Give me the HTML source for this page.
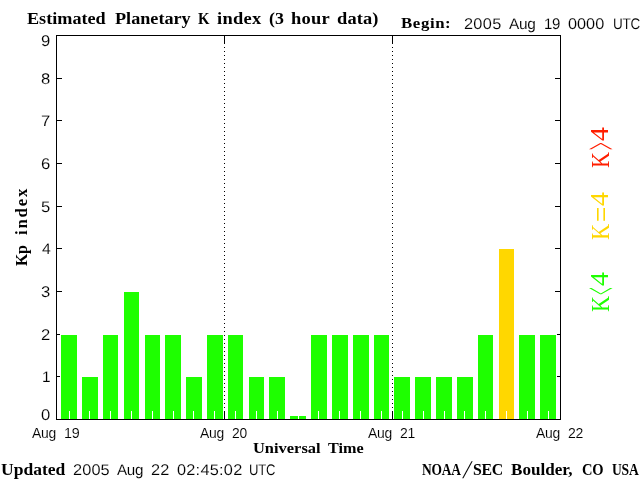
<!DOCTYPE html>
<html><head><meta charset="utf-8"><title>Estimated Planetary K index</title>
<style>
html,body{margin:0;padding:0;background:#fff;}
body{width:640px;height:480px;position:relative;overflow:hidden;}
#c{position:absolute;left:0;top:0;width:640px;height:480px;background:#fff;overflow:hidden;}
#c div,#c span{position:absolute;}
.w{white-space:pre;line-height:40px;height:40px;}
.serifb{font-family:"Liberation Serif",serif;font-weight:700;}
.serif{font-family:"Liberation Serif",serif;font-weight:400;}
.sans{font-family:"Liberation Sans",sans-serif;font-weight:400;-webkit-text-stroke:0.1px #fff;}
.p{left:0;top:0;width:0;height:0;}
.k{background:#000;}
.g{background:#1eff00;}
.y{background:#ffd700;}
.t{background:#fff;width:1px;top:411px;height:8px;}
</style></head><body><div id="c">
<div class="g" style="left:61px;top:335px;width:16px;height:84px"></div>
<div class="g" style="left:82px;top:377px;width:16px;height:42px"></div>
<div class="g" style="left:103px;top:335px;width:15px;height:84px"></div>
<div class="g" style="left:124px;top:292px;width:15px;height:127px"></div>
<div class="g" style="left:145px;top:335px;width:15px;height:84px"></div>
<div class="g" style="left:165px;top:335px;width:16px;height:84px"></div>
<div class="g" style="left:186px;top:377px;width:16px;height:42px"></div>
<div class="g" style="left:207px;top:335px;width:16px;height:84px"></div>
<div class="g" style="left:228px;top:335px;width:15px;height:84px"></div>
<div class="g" style="left:249px;top:377px;width:15px;height:42px"></div>
<div class="g" style="left:269px;top:377px;width:16px;height:42px"></div>
<div class="g" style="left:290px;top:416px;width:16px;height:3px"></div>
<div class="g" style="left:311px;top:335px;width:16px;height:84px"></div>
<div class="g" style="left:332px;top:335px;width:16px;height:84px"></div>
<div class="g" style="left:353px;top:335px;width:16px;height:84px"></div>
<div class="g" style="left:374px;top:335px;width:15px;height:84px"></div>
<div class="g" style="left:394px;top:377px;width:16px;height:42px"></div>
<div class="g" style="left:415px;top:377px;width:16px;height:42px"></div>
<div class="g" style="left:436px;top:377px;width:16px;height:42px"></div>
<div class="g" style="left:457px;top:377px;width:16px;height:42px"></div>
<div class="g" style="left:478px;top:335px;width:15px;height:84px"></div>
<div class="y" style="left:499px;top:249px;width:15px;height:170px"></div>
<div class="g" style="left:519px;top:335px;width:16px;height:84px"></div>
<div class="g" style="left:540px;top:335px;width:16px;height:84px"></div>
<div class="t" style="left:69px"></div>
<div class="t" style="left:89px"></div>
<div class="t" style="left:110px"></div>
<div class="t" style="left:131px"></div>
<div class="t" style="left:152px"></div>
<div class="t" style="left:173px"></div>
<div class="t" style="left:193px"></div>
<div class="t" style="left:214px"></div>
<div class="t" style="left:235px"></div>
<div class="t" style="left:256px"></div>
<div class="t" style="left:277px"></div>
<div class="t" style="left:298px"></div>
<div class="t" style="left:318px"></div>
<div class="t" style="left:339px"></div>
<div class="t" style="left:360px"></div>
<div class="t" style="left:381px"></div>
<div class="t" style="left:402px"></div>
<div class="t" style="left:423px"></div>
<div class="t" style="left:444px"></div>
<div class="t" style="left:464px"></div>
<div class="t" style="left:485px"></div>
<div class="t" style="left:506px"></div>
<div class="t" style="left:527px"></div>
<div class="t" style="left:548px"></div>
<div class="k" style="left:56px;top:35px;width:505px;height:1px"></div>
<div class="k" style="left:56px;top:419px;width:505px;height:1px"></div>
<div class="k" style="left:56px;top:35px;width:1px;height:385px"></div>
<div class="k" style="left:560px;top:35px;width:1px;height:385px"></div>
<div class="k" style="left:56px;top:35px;width:6px;height:1px"></div>
<div class="k" style="left:555px;top:35px;width:6px;height:1px"></div>
<div class="k" style="left:56px;top:78px;width:6px;height:1px"></div>
<div class="k" style="left:555px;top:78px;width:6px;height:1px"></div>
<div class="k" style="left:56px;top:120px;width:6px;height:1px"></div>
<div class="k" style="left:555px;top:120px;width:6px;height:1px"></div>
<div class="k" style="left:56px;top:163px;width:6px;height:1px"></div>
<div class="k" style="left:555px;top:163px;width:6px;height:1px"></div>
<div class="k" style="left:56px;top:206px;width:6px;height:1px"></div>
<div class="k" style="left:555px;top:206px;width:6px;height:1px"></div>
<div class="k" style="left:56px;top:248px;width:6px;height:1px"></div>
<div class="k" style="left:555px;top:248px;width:6px;height:1px"></div>
<div class="k" style="left:56px;top:291px;width:6px;height:1px"></div>
<div class="k" style="left:555px;top:291px;width:6px;height:1px"></div>
<div class="k" style="left:56px;top:334px;width:4px;height:1px"></div>
<div class="k" style="left:557px;top:334px;width:4px;height:1px"></div>
<div class="k" style="left:56px;top:376px;width:4px;height:1px"></div>
<div class="k" style="left:557px;top:376px;width:4px;height:1px"></div>
<div class="k" style="left:56px;top:419px;width:6px;height:1px"></div>
<div class="k" style="left:555px;top:419px;width:6px;height:1px"></div>
<div class="k" style="left:224px;top:35px;width:1px;height:9px"></div>
<div class="k" style="left:224px;top:411px;width:1px;height:9px"></div>
<div style="left:224px;top:47px;width:1px;height:361px;background:repeating-linear-gradient(to bottom,#000 0,#000 1px,transparent 1px,transparent 4px)"></div>
<div class="k" style="left:392px;top:35px;width:1px;height:9px"></div>
<div class="k" style="left:392px;top:411px;width:1px;height:9px"></div>
<div style="left:392px;top:47px;width:1px;height:361px;background:repeating-linear-gradient(to bottom,#000 0,#000 1px,transparent 1px,transparent 4px)"></div>
<div class="p"><span id="e1" class="w serifb" style="left:26.73px;top:-1.50px;font-size:16.8px;transform-origin:0 0;transform:scaleX(1.0826);color:#000">Estimated</span>
<span id="e2" class="w serifb" style="left:115.43px;top:-1.50px;font-size:16.8px;transform-origin:0 0;transform:scaleX(1.0826);color:#000">Planetary</span>
<span id="e3" class="w serifb" style="left:198.28px;top:-1.50px;font-size:16.8px;transform-origin:0 0;transform:scaleX(0.8830);color:#000">K</span>
<span id="e4" class="w serifb" style="left:216.83px;top:-1.50px;font-size:16.8px;letter-spacing:0.253px;transform-origin:0 0;transform:scaleX(1.1000);color:#000">index</span>
<span id="e5" class="w serifb" style="left:268.70px;top:-1.50px;font-size:16.8px;transform-origin:0 0;transform:scaleX(1.0643);color:#000">(3</span>
<span id="e6" class="w serifb" style="left:290.54px;top:-1.50px;font-size:16.8px;letter-spacing:0.259px;transform-origin:0 0;transform:scaleX(1.1000);color:#000">hour</span>
<span id="e7" class="w serifb" style="left:337.26px;top:-1.50px;font-size:16.8px;letter-spacing:0.103px;transform-origin:0 0;transform:scaleX(1.1000);color:#000">data)</span></div>
<div class="p"><span id="e8" class="w serifb" style="left:401.05px;top:2.50px;font-size:15.3px;letter-spacing:0.542px;transform-origin:0 0;transform:scaleX(1.1000);color:#000">Begin:</span>
<span id="e9" class="w sans" style="left:464.38px;top:3.50px;font-size:15.4px;letter-spacing:0.298px;transform-origin:0 0;transform:scaleX(1.0600) rotate(0.04deg);color:#000">2005</span>
<span id="e10" class="w sans" style="left:508.80px;top:3.50px;font-size:15.4px;letter-spacing:-0.300px;transform-origin:0 0;transform:scaleX(0.9996) rotate(0.04deg);color:#000">Aug</span>
<span id="e11" class="w sans" style="left:543.88px;top:3.50px;font-size:15.4px;letter-spacing:-0.300px;transform-origin:0 0;transform:scaleX(0.9702) rotate(0.04deg);color:#000">19</span>
<span id="e12" class="w sans" style="left:568.35px;top:3.50px;font-size:15.4px;transform-origin:0 0;transform:scaleX(1.0571) rotate(0.04deg);color:#000">0000</span>
<span id="e13" class="w sans" style="left:612.81px;top:3.50px;font-size:15.4px;letter-spacing:-0.300px;transform-origin:0 0;transform:scaleX(0.8755) rotate(0.04deg);color:#000">UTC</span></div>
<div class="p"><span id="e14" class="w sans" style="left:41.38px;top:20.50px;font-size:15.4px;transform-origin:0 0;transform:scaleX(1.0800) rotate(0.04deg);color:#000">9</span>
<span id="e15" class="w sans" style="left:41.34px;top:58.50px;font-size:15.4px;transform-origin:0 0;transform:scaleX(1.0800) rotate(0.04deg);color:#000">8</span>
<span id="e16" class="w sans" style="left:41.38px;top:100.50px;font-size:15.4px;transform-origin:0 0;transform:scaleX(1.0800) rotate(0.04deg);color:#000">7</span>
<span id="e17" class="w sans" style="left:41.30px;top:143.50px;font-size:15.4px;transform-origin:0 0;transform:scaleX(1.0800) rotate(0.04deg);color:#000">6</span>
<span id="e18" class="w sans" style="left:41.38px;top:186.50px;font-size:15.4px;transform-origin:0 0;transform:scaleX(1.0800) rotate(0.04deg);color:#000">5</span>
<span id="e19" class="w sans" style="left:41.68px;top:228.50px;font-size:15.4px;transform-origin:0 0;transform:scaleX(1.0287) rotate(0.04deg);color:#000">4</span>
<span id="e20" class="w sans" style="left:41.38px;top:271.50px;font-size:15.4px;transform-origin:0 0;transform:scaleX(1.0800) rotate(0.04deg);color:#000">3</span>
<span id="e21" class="w sans" style="left:41.38px;top:314.50px;font-size:15.4px;transform-origin:0 0;transform:scaleX(1.0800) rotate(0.04deg);color:#000">2</span>
<span id="e22" class="w sans" style="left:41.50px;top:356.50px;font-size:15.4px;transform-origin:0 0;transform:scaleX(1.0000) rotate(0.04deg);color:#000">1</span>
<span id="e23" class="w sans" style="left:41.34px;top:394.50px;font-size:15.4px;transform-origin:0 0;transform:scaleX(1.0800) rotate(0.04deg);color:#000">0</span></div>
<div class="p"><span id="e24" class="w serifb" style="left:1.50px;top:266.24px;font-size:16.8px;letter-spacing:-0.300px;color:#000;transform-origin:0 0;transform:rotate(-90deg) scaleX(0.9432)">Kp</span>
<span id="e25" class="w serifb" style="left:1.50px;top:235.34px;font-size:16.8px;letter-spacing:1.798px;color:#000;transform-origin:0 0;transform:rotate(-90deg) scaleX(1.0000)">index</span></div>
<div class="p"><span id="e26" class="w serif" style="left:580.67px;top:167.66px;font-size:24.4px;color:#ff1e00;transform-origin:0 0;transform:rotate(-90deg) scale(0.9041,1.0011)">K</span><span id="e27" class="w serif" style="left:559.65px;top:149.92px;font-size:24.4px;color:#ff1e00;transform-origin:0 0;transform:rotate(-90deg) scale(0.5509,2.0281)">&gt;</span><span id="e28" class="w serif" style="left:579.68px;top:141.15px;font-size:24.4px;color:#ff1e00;transform-origin:0 0;transform:rotate(-90deg) scale(1.1326,0.9935)">4</span></div>
<div class="p"><span id="e29" class="w serif" style="left:580.67px;top:239.67px;font-size:24.4px;color:#ffd700;transform-origin:0 0;transform:rotate(-90deg) scale(0.9191,1.0011)">K</span><span id="e30" class="w serif" style="left:574.98px;top:221.95px;font-size:24.4px;color:#ffd700;transform-origin:0 0;transform:rotate(-90deg) scale(1.1105,1.3115)">=</span><span id="e31" class="w serif" style="left:579.68px;top:205.56px;font-size:24.4px;color:#ffd700;transform-origin:0 0;transform:rotate(-90deg) scale(1.1458,0.9935)">4</span></div>
<div class="p"><span id="e32" class="w serif" style="left:580.67px;top:311.66px;font-size:24.4px;color:#1eff00;transform-origin:0 0;transform:rotate(-90deg) scale(0.9041,1.0011)">K</span><span id="e33" class="w serif" style="left:559.65px;top:294.67px;font-size:24.4px;color:#1eff00;transform-origin:0 0;transform:rotate(-90deg) scale(0.5509,2.0281)">&lt;</span><span id="e34" class="w serif" style="left:579.68px;top:285.56px;font-size:24.4px;color:#1eff00;transform-origin:0 0;transform:rotate(-90deg) scale(1.1458,0.9935)">4</span></div>
<div class="p"><span id="e35" class="w sans" style="left:32.00px;top:413.00px;font-size:14.5px;letter-spacing:-0.300px;transform-origin:0 0;transform:scaleX(0.9601);color:#000">Aug</span>
<span id="e36" class="w sans" style="left:63.52px;top:413.00px;font-size:14.5px;letter-spacing:-0.300px;transform-origin:0 0;transform:scaleX(0.9890);color:#000">19</span></div>
<div class="p"><span id="e37" class="w sans" style="left:200.00px;top:413.00px;font-size:14.5px;letter-spacing:-0.300px;transform-origin:0 0;transform:scaleX(0.9601);color:#000">Aug</span>
<span id="e38" class="w sans" style="left:231.91px;top:413.00px;font-size:14.5px;letter-spacing:-0.300px;transform-origin:0 0;transform:scaleX(0.9545);color:#000">20</span></div>
<div class="p"><span id="e39" class="w sans" style="left:368.00px;top:413.00px;font-size:14.5px;letter-spacing:-0.300px;transform-origin:0 0;transform:scaleX(0.9601);color:#000">Aug</span>
<span id="e40" class="w sans" style="left:399.90px;top:413.00px;font-size:14.5px;letter-spacing:-0.300px;transform-origin:0 0;transform:scaleX(0.9641);color:#000">21</span></div>
<div class="p"><span id="e41" class="w sans" style="left:536.00px;top:413.00px;font-size:14.5px;letter-spacing:-0.300px;transform-origin:0 0;transform:scaleX(0.9601);color:#000">Aug</span>
<span id="e42" class="w sans" style="left:567.90px;top:413.00px;font-size:14.5px;letter-spacing:-0.300px;transform-origin:0 0;transform:scaleX(0.9690);color:#000">22</span></div>
<div class="p"><span id="e43" class="w serifb" style="left:253.19px;top:427.50px;font-size:15.3px;transform-origin:0 0;transform:scaleX(1.0743);color:#000">Universal</span>
<span id="e44" class="w serifb" style="left:327.76px;top:427.50px;font-size:15.3px;transform-origin:0 0;transform:scaleX(1.0566);color:#000">Time</span></div>
<div class="p"><span id="e45" class="w serifb" style="left:0.86px;top:449.50px;font-size:16.8px;transform-origin:0 0;transform:scaleX(1.0445);color:#000">Updated</span>
<span id="e46" class="w sans" style="left:72.68px;top:449.50px;font-size:15.4px;letter-spacing:0.125px;transform-origin:0 0;transform:scaleX(1.0600) rotate(0.04deg);color:#000">2005</span>
<span id="e47" class="w sans" style="left:117.00px;top:449.50px;font-size:15.4px;letter-spacing:-0.300px;transform-origin:0 0;transform:scaleX(0.9880) rotate(0.04deg);color:#000">Aug</span>
<span id="e48" class="w sans" style="left:150.93px;top:449.50px;font-size:15.4px;letter-spacing:0.248px;transform-origin:0 0;transform:scaleX(1.0600) rotate(0.04deg);color:#000">22</span>
<span id="e49" class="w sans" style="left:176.85px;top:449.50px;font-size:15.4px;letter-spacing:0.232px;transform-origin:0 0;transform:scaleX(1.0600) rotate(0.04deg);color:#000">02:45:02</span>
<span id="e50" class="w sans" style="left:249.02px;top:449.50px;font-size:15.4px;letter-spacing:-0.300px;transform-origin:0 0;transform:scaleX(0.8517) rotate(0.04deg);color:#000">UTC</span></div>
<div class="p"><span id="e51" class="w serifb" style="left:422.23px;top:449.50px;font-size:16.8px;letter-spacing:-0.300px;transform-origin:0 0;transform:scaleX(0.8009);color:#000">NOAA</span><span id="e52" class="w serif" style="left:468.19px;top:449.25px;font-size:25.37px;transform-origin:0 0;transform:skewX(-11.38deg)">/</span><span id="e53" class="w serifb" style="left:473.13px;top:449.50px;font-size:16.8px;letter-spacing:-0.300px;transform-origin:0 0;transform:scaleX(0.9434);color:#000">SEC</span>
<span id="e54" class="w serifb" style="left:510.74px;top:449.50px;font-size:16.8px;transform-origin:0 0;transform:scaleX(1.0178);color:#000">Boulder,</span>
<span id="e55" class="w serifb" style="left:582.05px;top:449.50px;font-size:16.8px;letter-spacing:-0.300px;transform-origin:0 0;transform:scaleX(0.8656);color:#000">CO</span>
<span id="e56" class="w serifb" style="left:611.98px;top:449.50px;font-size:16.8px;letter-spacing:-0.300px;transform-origin:0 0;transform:scaleX(0.8093);color:#000">USA</span></div>
</div></body></html>
